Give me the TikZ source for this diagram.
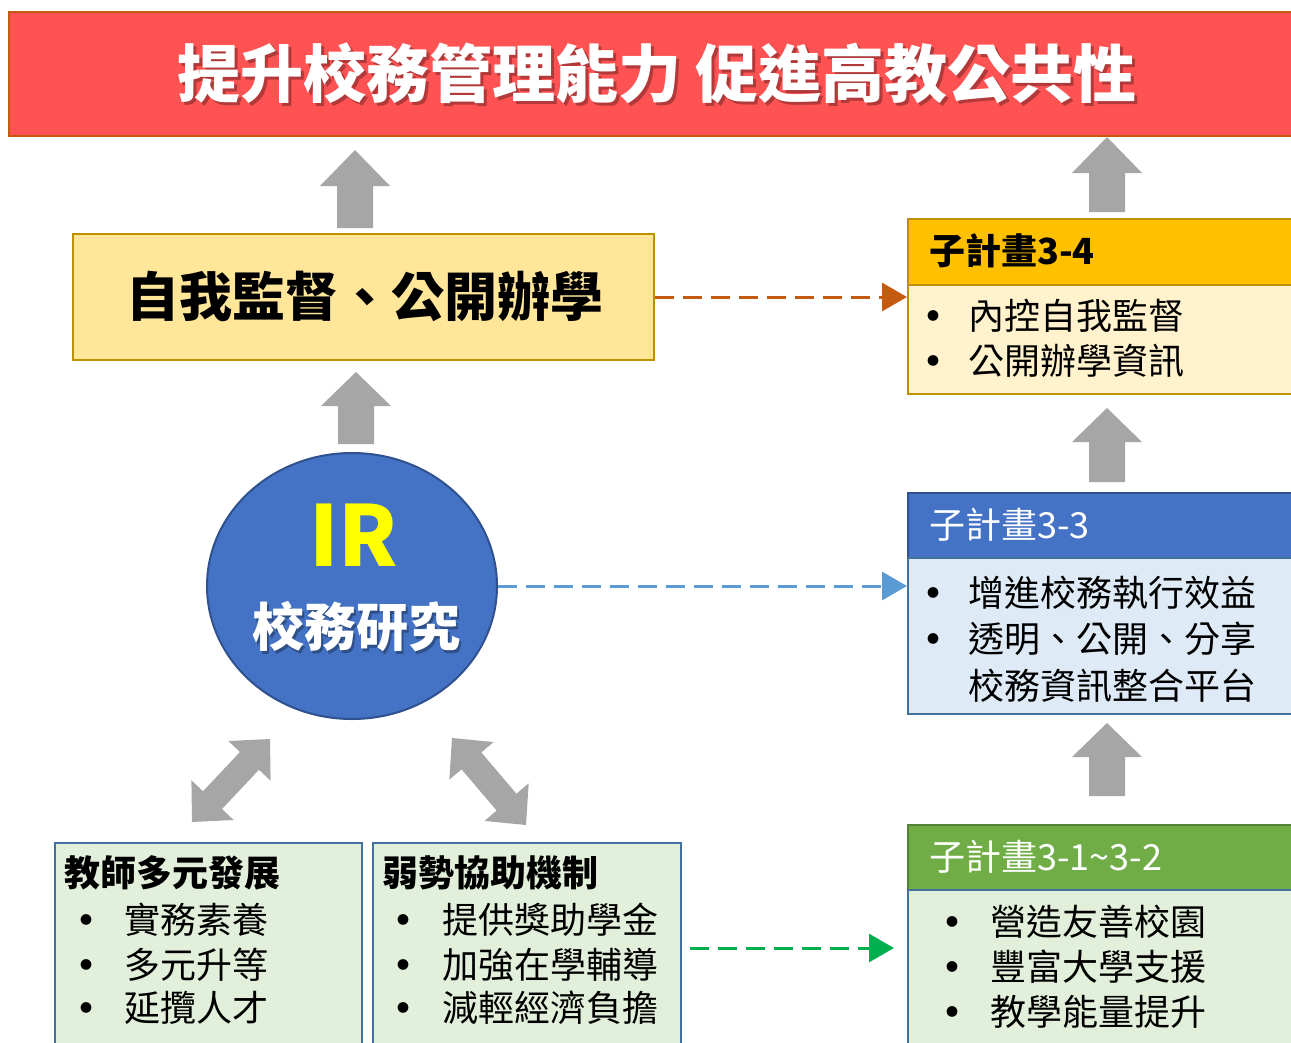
\documentclass[tikz,border=0pt]{standalone}
\usepackage{fontspec}
\setmainfont{Noto Sans CJK TC}
\usetikzlibrary{calc,arrows.meta,shapes.geometric}
\definecolor{redfill}{HTML}{FF5252}
\definecolor{redline}{HTML}{C55A11}
\definecolor{yelfill}{HTML}{FFE699}
\definecolor{goldline}{HTML}{BF9000}
\definecolor{hdrgold}{HTML}{FFC000}
\definecolor{bodygold}{HTML}{FFF2CC}
\definecolor{hdrblue}{HTML}{4472C4}
\definecolor{blueline}{HTML}{2F528F}
\definecolor{bodyblue}{HTML}{DEEBF7}
\definecolor{steel}{HTML}{41719C}
\definecolor{hdrgreen}{HTML}{70AD47}
\definecolor{greenline}{HTML}{548235}
\definecolor{bodygreen}{HTML}{E2EFDA}
\definecolor{arrowgray}{HTML}{A6A6A6}
\definecolor{dashorange}{HTML}{C55A11}
\definecolor{dashblue}{HTML}{5B9BD5}
\definecolor{dashgreen}{HTML}{00B050}
\definecolor{iryellow}{HTML}{FFFF00}
\newcommand\fsz[1]{\fontsize{#1}{#1}\selectfont}
\newcommand\blkarrow[5]{%
 \fill[arrowgray] ($(#1)!#5!90:(#2)$) -- ($(#2)!#3!(#1)!#5!90:(#2)$) -- ($(#2)!#3!(#1)!#4!90:(#2)$) -- (#2) -- ($(#2)!#3!(#1)!#4!-90:(#2)$) -- ($(#2)!#3!(#1)!#5!-90:(#2)$) -- ($(#1)!#5!-90:(#2)$) -- cycle;}
\newcommand\dblarrow[5]{%
 \fill[arrowgray] (#1) -- ($(#1)!#3!(#2)!#4!90:(#2)$) -- ($(#1)!#3!(#2)!#5!90:(#2)$) -- ($(#2)!#3!(#1)!#5!90:(#2)$) -- ($(#2)!#3!(#1)!#4!90:(#2)$) -- (#2) -- ($(#2)!#3!(#1)!#4!-90:(#2)$) -- ($(#2)!#3!(#1)!#5!-90:(#2)$) -- ($(#1)!#3!(#2)!#5!-90:(#2)$) -- ($(#1)!#3!(#2)!#4!-90:(#2)$) -- cycle;}
\tikzset{
 boxnode/.style={anchor=north west, inner sep=0pt, line width=2pt},
 bodytxt/.style={inner sep=0pt, anchor=west, font=\fsz{36}},
 hdrtxt/.style={inner sep=0pt, anchor=west, font=\fsz{36}\bfseries},
 hdrlight/.style={inner sep=0pt, anchor=west, font=\fsz{36}},
 bul/.style={inner sep=0pt, font=\fsz{12}},
 dashline/.style={line width=3pt, dash pattern=on 19pt off 9pt},
}
\begin{document}
\begin{tikzpicture}[x=1pt,y=-1pt]
\useasboundingbox (0,0) rectangle (1291,1042);
\clip (0,0) rectangle (1291,1042);
\fill[white] (0,0) rectangle (1291,1042);

% title
\node[boxnode, draw=redline, fill=redfill, minimum width=1300pt, minimum height=124pt] (title) at (8,11) {};
\node[inner sep=0pt, font=\fsz{63}\bfseries, text=black, opacity=0.3] (titleshadow) at (660,76) {提升校務管理能力 促進高教公共性};
\node[inner sep=0pt, font=\fsz{63}\bfseries, text=white] (titletxt) at (657,73) {提升校務管理能力 促進高教公共性};

% yellow box
\node[boxnode, draw=goldline, fill=yelfill, minimum width=581pt, minimum height=126pt] (ybox) at (72,233) {};
\node[inner sep=0pt, font=\fsz{53}\bfseries] (ytxt) at (365,296) {自我監督、公開辦學};

% IR circle
\node[ellipse, draw=blueline, fill=hdrblue, line width=2pt, minimum width=290pt, minimum height=266pt, inner sep=0pt] (ir) at (352,586) {};
\node[inner sep=0pt, font=\fsz{84}\bfseries, text=iryellow] (irtxt) at (354,535) {IR};
\node[inner sep=0pt, font=\fsz{52}\bfseries, text=black, opacity=0.3] (irsubshadow) at (358,630) {校務研究};
\node[inner sep=0pt, font=\fsz{52}\bfseries, text=white] (irsub) at (356,627) {校務研究};

% box 3-4
\node[boxnode, draw=goldline, fill=hdrgold, minimum width=400pt, minimum height=66pt] (h34) at (907,218) {};
\node[boxnode, draw=goldline, fill=bodygold, minimum width=400pt, minimum height=109pt] (b34) at (907,284) {};
\node[hdrtxt] (h34t) at (929,251) {子計畫3-4};
\node[bul] (b34a) at (933,316) {●};
\node[bodytxt] (b34at) at (968,316) {內控自我監督};
\node[bul] (b34b) at (933,361) {●};
\node[bodytxt] (b34bt) at (968,361) {公開辦學資訊};

% box 3-3
\node[boxnode, draw=blueline, fill=hdrblue, minimum width=400pt, minimum height=65pt] (h33) at (907,492) {};
\node[boxnode, draw=steel, fill=bodyblue, minimum width=400pt, minimum height=156pt] (b33) at (907,557) {};
\node[hdrlight, text=white] (h33t) at (929,525) {子計畫3-3};
\node[bul] (b33a) at (933,593) {●};
\node[bodytxt] (b33at) at (968,593) {增進校務執行效益};
\node[bul] (b33b) at (933,639) {●};
\node[bodytxt] (b33bt) at (968,639) {透明、公開、分享};
\node[bodytxt] (b33ct) at (968,686) {校務資訊整合平台};

% box 3-1~3-2
\node[boxnode, draw=greenline, fill=hdrgreen, minimum width=400pt, minimum height=65pt] (h31) at (907,824) {};
\node[boxnode, draw=steel, fill=bodygreen, minimum width=400pt, minimum height=170pt] (b31) at (907,889) {};
\node[hdrlight, text=white] (h31t) at (929,857) {子計畫3-1\char"007E 3-2};
\node[bul] (b31a) at (952,922) {●};
\node[bodytxt] (b31at) at (990,922) {營造友善校園};
\node[bul] (b31b) at (952,967) {●};
\node[bodytxt] (b31bt) at (990,967) {豐富大學支援};
\node[bul] (b31c) at (952,1012) {●};
\node[bodytxt] (b31ct) at (990,1012) {教學能量提升};

% bottom left boxes
\node[boxnode, draw=steel, fill=bodygreen, minimum width=307pt, minimum height=220pt] (lb1) at (54,842) {};
\node[hdrtxt] (lb1t) at (64,873) {教師多元發展};
\node[bul] (lb1a) at (86,920) {●};
\node[bodytxt] (lb1at) at (124,920) {實務素養};
\node[bul] (lb1b) at (86,965) {●};
\node[bodytxt] (lb1bt) at (124,965) {多元升等};
\node[bul] (lb1c) at (86,1008) {●};
\node[bodytxt] (lb1ct) at (124,1008) {延攬人才};

\node[boxnode, draw=steel, fill=bodygreen, minimum width=308pt, minimum height=220pt] (lb2) at (372,842) {};
\node[hdrtxt] (lb2t) at (382,873) {弱勢協助機制};
\node[bul] (lb2a) at (403,920) {●};
\node[bodytxt] (lb2at) at (442,920) {提供獎助學金};
\node[bul] (lb2b) at (403,965) {●};
\node[bodytxt] (lb2bt) at (442,965) {加強在學輔導};
\node[bul] (lb2c) at (403,1008) {●};
\node[bodytxt] (lb2ct) at (442,1008) {減輕經濟負擔};

% dashed connectors
\draw[dashline, draw=dashorange, -{Triangle[length=25pt,width=28pt,fill=dashorange]}] (ybox.east) -- (ybox.east -| b34.west);
\draw[dashline, draw=dashblue, -{Triangle[length=25pt,width=28pt,fill=dashblue]}] (ir.east) -- (ir.east -| b33.west);
\coordinate (gs) at (690,948);
\coordinate (ge) at (894,948);
\draw[dashline, draw=dashgreen, -{Triangle[length=25pt,width=28pt,fill=dashgreen]}] (gs) -- (ge);

% gray block arrows
\coordinate (a1b) at (355,228); \coordinate (a1t) at (355,150);
\coordinate (a2b) at (356,444); \coordinate (a2t) at (356,372);
\coordinate (a3b) at (1107,212); \coordinate (a3t) at (1107,137);
\coordinate (a4b) at (1107,482); \coordinate (a4t) at (1107,408);
\coordinate (a5b) at (1107,796); \coordinate (a5t) at (1107,723);
\blkarrow{a1b}{a1t}{36pt}{35pt}{18pt}
\blkarrow{a2b}{a2t}{34pt}{35pt}{18pt}
\blkarrow{a3b}{a3t}{36pt}{35pt}{18pt}
\blkarrow{a4b}{a4t}{34pt}{35pt}{18pt}
\blkarrow{a5b}{a5t}{34pt}{35pt}{18pt}
\coordinate (d1a) at (192,822); \coordinate (d1b) at (270,739);
\coordinate (d2a) at (452,738); \coordinate (d2b) at (526,825);
\dblarrow{d1a}{d1b}{30pt}{29pt}{13pt}
\dblarrow{d2a}{d2b}{30pt}{29pt}{13pt}
\end{tikzpicture}
\end{document}
